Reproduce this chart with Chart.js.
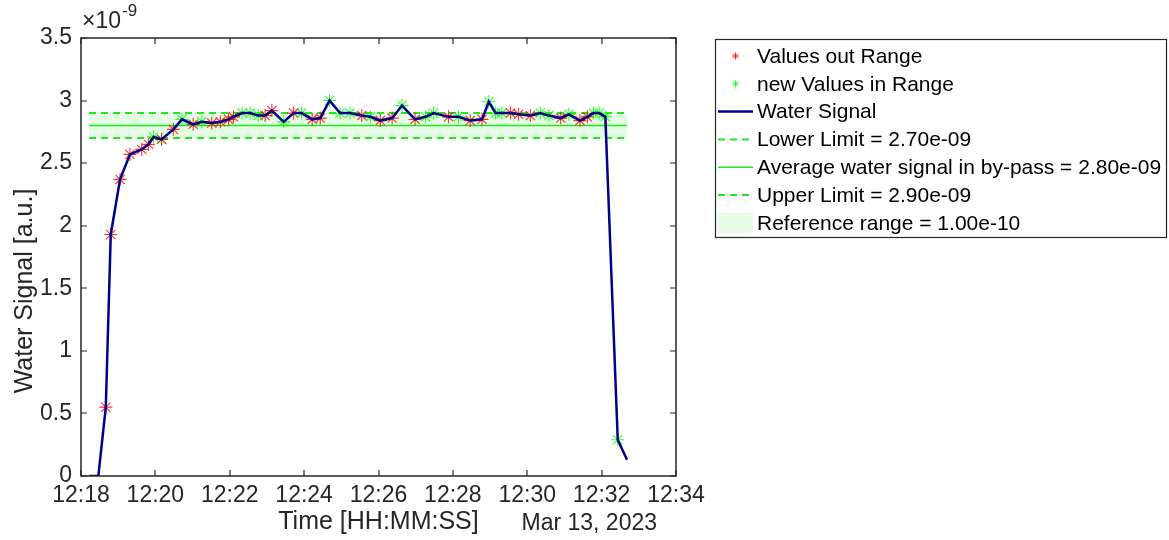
<!DOCTYPE html>
<html>
<head>
<meta charset="utf-8">
<script src="https://cdn.jsdelivr.net/npm/chart.js@4.4.0/dist/chart.umd.min.js"></script>
<style>
  html, body { margin: 0; padding: 0; background: #fff; }
  #chart { display: block; }
</style>
</head>
<body>
<canvas id="chart" width="1169" height="540"></canvas>
<script>
// --- data (signal in units of 1e-9 a.u.) ---
const sampleTimes = [
  '12:18:13', '12:18:28', '12:18:40', '12:18:48', '12:19:03', '12:19:19', '12:19:38', '12:19:49',
  '12:19:57', '12:20:10', '12:20:29', '12:20:43', '12:21:01', '12:21:15', '12:21:31', '12:21:45',
  '12:21:58', '12:22:06', '12:22:20', '12:22:33', '12:22:46', '12:22:57', '12:23:08', '12:23:27',
  '12:23:43', '12:23:56', '12:24:13', '12:24:26', '12:24:41', '12:24:58', '12:25:14', '12:25:33',
  '12:25:47', '12:26:03', '12:26:22', '12:26:38', '12:26:59', '12:27:16', '12:27:29', '12:27:53',
  '12:28:09', '12:28:28', '12:28:47', '12:28:58', '12:29:09', '12:29:19', '12:29:33', '12:29:46',
  '12:30:05', '12:30:21', '12:30:35', '12:30:54', '12:31:07', '12:31:25', '12:31:37', '12:31:47',
  '12:31:56', '12:32:06', '12:32:26', '12:32:41'
];
const waterSignal = [
  0, 0, 0.55, 1.93, 2.37, 2.57, 2.61, 2.65,
  2.71, 2.69, 2.77, 2.85, 2.81, 2.83, 2.82, 2.83,
  2.85, 2.87, 2.90, 2.90, 2.88, 2.88, 2.92, 2.83,
  2.90, 2.90, 2.85, 2.86, 3.00, 2.90, 2.90, 2.88,
  2.87, 2.84, 2.86, 2.96, 2.85, 2.87, 2.90, 2.87,
  2.87, 2.84, 2.85, 2.99, 2.90, 2.90, 2.90, 2.89,
  2.88, 2.90, 2.88, 2.86, 2.89, 2.84, 2.87, 2.90,
  2.90, 2.87, 0.29, 0.13
];
// r = value out of range, g = new value in range
const markerKind = [
  '', '', 'r', 'r', 'r', 'r', 'r', 'r',
  'g', 'rg', 'r', 'g', 'r', 'g', 'r', 'r',
  'r', 'r', 'g', 'g', 'g', 'r', 'r', 'g',
  'r', 'g', 'r', 'r', 'g', 'g', 'g', 'r',
  'g', 'r', 'r', 'g', 'r', 'g', 'g', 'r',
  'g', 'r', 'r', 'g', 'g', 'g', 'r', 'r',
  'r', 'g', 'g', 'r', 'g', 'r', 'r', 'g',
  'g', 'g', 'g', ''
];

const LOWER_LIMIT = 2.70;
const AVERAGE_SIGNAL = 2.80;
const UPPER_LIMIT = 2.90;
const REFERENCE_RANGE = 1.00e-10;
const SCALE_EXP = -9;

const xAxisStart = '12:18:00';
const xAxisEnd = '12:34:00';
const xTickStepSec = 120;
const yAxisMax = 3.5;
const yTickStep = 0.5;
const dateLabel = 'Mar 13, 2023';
const yTitle = 'Water Signal [a.u.]';

// --- helpers ---
const toSec = s => { const [h, m, sec] = s.split(':').map(Number); return h * 3600 + m * 60 + sec; };
const hhmm = v => { const h = Math.floor(v / 3600), m = Math.floor((v % 3600) / 60); return h + ':' + String(m).padStart(2, '0'); };
const fmtE = v => {
  const [mant, e] = v.toExponential(2).split('e');
  const n = parseInt(e, 10);
  return mant + 'e' + (n < 0 ? '-' : '+') + String(Math.abs(n)).padStart(2, '0');
};

const FONT = '"Liberation Sans", Arial, Helvetica, sans-serif';
const AXIS_COLOR = '#262626';
const RED = 'rgba(255, 0, 0, 0.8)';
const GREEN = 'rgba(0, 255, 0, 0.8)';
const LIMIT_GREEN = '#1ee81e';
const BAND_FILL = 'rgba(0, 230, 0, 0.11)';
const NAVY = '#00008b';

const signalPts = sampleTimes.map((t, i) => ({ x: toSec(t), y: waterSignal[i] }));
const redPts = signalPts.filter((p, i) => markerKind[i].includes('r'));
const greenPts = signalPts.filter((p, i) => markerKind[i].includes('g'));
const spanX = [toSec(sampleTimes[0]), toSec(sampleTimes[sampleTimes.length - 1])];
const flat = v => spanX.map(x => ({ x, y: v }));

const datasets = [
  { label: 'Values out Range', data: redPts, showLine: false, pointStyle: 'star', pointRadius: 6.5,
    pointBorderWidth: 1.1, borderColor: RED, backgroundColor: RED, order: 1, kind: 'marker' },
  { label: 'new Values in Range', data: greenPts, showLine: false, pointStyle: 'star', pointRadius: 6.5,
    pointBorderWidth: 1.1, borderColor: GREEN, backgroundColor: GREEN, order: 2, kind: 'marker' },
  { label: 'Water Signal', data: signalPts, borderColor: NAVY, borderWidth: 2.5, pointRadius: 0,
    order: 0, kind: 'line' },
  { label: 'Lower Limit = ' + fmtE(LOWER_LIMIT * Math.pow(10, SCALE_EXP)), data: flat(LOWER_LIMIT),
    borderColor: LIMIT_GREEN, borderWidth: 2, borderDash: [7, 5], pointRadius: 0, order: 3, kind: 'line' },
  { label: 'Average water signal in by-pass = ' + fmtE(AVERAGE_SIGNAL * Math.pow(10, SCALE_EXP)),
    data: flat(AVERAGE_SIGNAL), borderColor: LIMIT_GREEN, borderWidth: 1.5, pointRadius: 0, order: 3, kind: 'line' },
  { label: 'Upper Limit = ' + fmtE(UPPER_LIMIT * Math.pow(10, SCALE_EXP)), data: flat(UPPER_LIMIT),
    borderColor: LIMIT_GREEN, borderWidth: 2, borderDash: [7, 5], pointRadius: 0, order: 3, kind: 'line' },
  { label: 'Reference range = ' + fmtE(REFERENCE_RANGE), data: flat(UPPER_LIMIT),
    fill: { target: { value: LOWER_LIMIT } }, backgroundColor: BAND_FILL, borderWidth: 0,
    pointRadius: 0, order: 6, kind: 'patch' }
];

// box, inward ticks, exponent, y label, date
const framePlugin = {
  id: 'frame',
  afterDraw(chart) {
    const { ctx, chartArea: a, scales: { x, y } } = chart;
    ctx.save();
    ctx.strokeStyle = AXIS_COLOR;
    ctx.lineWidth = 1.5;
    ctx.strokeRect(a.left, a.top, a.right - a.left, a.bottom - a.top);
    ctx.lineWidth = 1.2;
    const tl = 6;
    ctx.beginPath();
    x.ticks.forEach(t => {
      const px = Math.round(x.getPixelForValue(t.value));
      ctx.moveTo(px, a.bottom); ctx.lineTo(px, a.bottom - tl);
      ctx.moveTo(px, a.top); ctx.lineTo(px, a.top + tl);
    });
    y.ticks.forEach(t => {
      const py = Math.round(y.getPixelForValue(t.value));
      ctx.moveTo(a.left, py); ctx.lineTo(a.left + tl, py);
      ctx.moveTo(a.right, py); ctx.lineTo(a.right - tl, py);
    });
    ctx.stroke();

    ctx.fillStyle = AXIS_COLOR;
    ctx.textBaseline = 'middle';
    ctx.textAlign = 'left';
    ctx.font = '23px ' + FONT;
    ctx.fillText('\u00d710', a.left + 1, 22);
    const w = ctx.measureText('\u00d710').width;
    ctx.font = '17px ' + FONT;
    ctx.fillText(String(SCALE_EXP), a.left + 2 + w, 11);

    ctx.font = '23px ' + FONT;
    ctx.textAlign = 'right';
    ctx.fillText(dateLabel, a.right - 19, 524);

    ctx.save();
    ctx.translate(25, 291);
    ctx.rotate(-Math.PI / 2);
    ctx.textAlign = 'center';
    ctx.font = '25px ' + FONT;
    ctx.fillText(yTitle, 0, 0);
    ctx.restore();
    ctx.restore();
  }
};

// MATLAB style legend box on the right
const legendPlugin = {
  id: 'matLegend',
  afterDraw(chart) {
    const { ctx } = chart;
    const box = { x: 715, y: 39, w: 451, h: 198 };
    const rowTop = 56, rowGap = 27.8, sx0 = 718, sx1 = 753, tx = 757;
    ctx.save();
    ctx.fillStyle = '#fff';
    ctx.fillRect(box.x, box.y, box.w, box.h);
    ctx.strokeStyle = AXIS_COLOR;
    ctx.lineWidth = 1.2;
    ctx.strokeRect(box.x + 0.5, box.y + 0.5, box.w, box.h);
    chart.data.datasets.forEach((ds, i) => {
      const cy = rowTop + i * rowGap;
      ctx.save();
      if (ds.kind === 'marker') {
        ctx.strokeStyle = ds.borderColor;
        ctx.lineWidth = 1;
        Chart.helpers.drawPoint(ctx, { pointStyle: 'star', radius: 3.5, borderWidth: 1, rotation: 0 }, (sx0 + sx1) / 2, cy);
      } else if (ds.kind === 'line') {
        ctx.strokeStyle = ds.borderColor;
        ctx.lineWidth = ds.borderWidth;
        ctx.setLineDash(ds.borderDash || []);
        ctx.beginPath();
        ctx.moveTo(sx0, cy); ctx.lineTo(sx1, cy);
        ctx.stroke();
      } else {
        ctx.fillStyle = ds.backgroundColor;
        ctx.fillRect(sx0, cy - 10, sx1 - sx0, 20);
      }
      ctx.restore();
      ctx.fillStyle = '#000';
      ctx.font = '21px ' + FONT;
      ctx.textBaseline = 'middle';
      ctx.textAlign = 'left';
      ctx.fillText(ds.label, tx, cy + 1);
    });
    ctx.restore();
  }
};

new Chart(document.getElementById('chart'), {
  type: 'line',
  data: { datasets },
  options: {
    responsive: false,
    animation: false,
    devicePixelRatio: 1,
    layout: { padding: { top: 38, right: 493, left: 0, bottom: 0 } },
    plugins: { legend: { display: false }, tooltip: { enabled: false } },
    elements: { line: { tension: 0 } },
    scales: {
      x: {
        type: 'linear',
        min: toSec(xAxisStart),
        max: toSec(xAxisEnd),
        grid: { display: false, drawTicks: false },
        border: { display: false },
        ticks: {
          stepSize: xTickStepSec,
          callback: v => hhmm(v),
          font: { family: FONT, size: 23 },
          color: AXIS_COLOR,
          padding: 6,
          maxRotation: 0,
          autoSkip: false
        },
        title: {
          display: true,
          text: 'Time [HH:MM:SS]',
          font: { family: FONT, size: 25 },
          color: AXIS_COLOR,
          padding: { top: 0, bottom: 3 }
        },
        afterFit: s => { s.height = 64; }
      },
      y: {
        min: 0,
        max: yAxisMax,
        grid: { display: false, drawTicks: false },
        border: { display: false },
        ticks: {
          stepSize: yTickStep,
          callback: v => String(v),
          font: { family: FONT, size: 23 },
          color: AXIS_COLOR,
          padding: 9
        },
        afterFit: s => { s.width = 81; }
      }
    }
  },
  plugins: [framePlugin, legendPlugin]
});
</script>
</body>
</html>
